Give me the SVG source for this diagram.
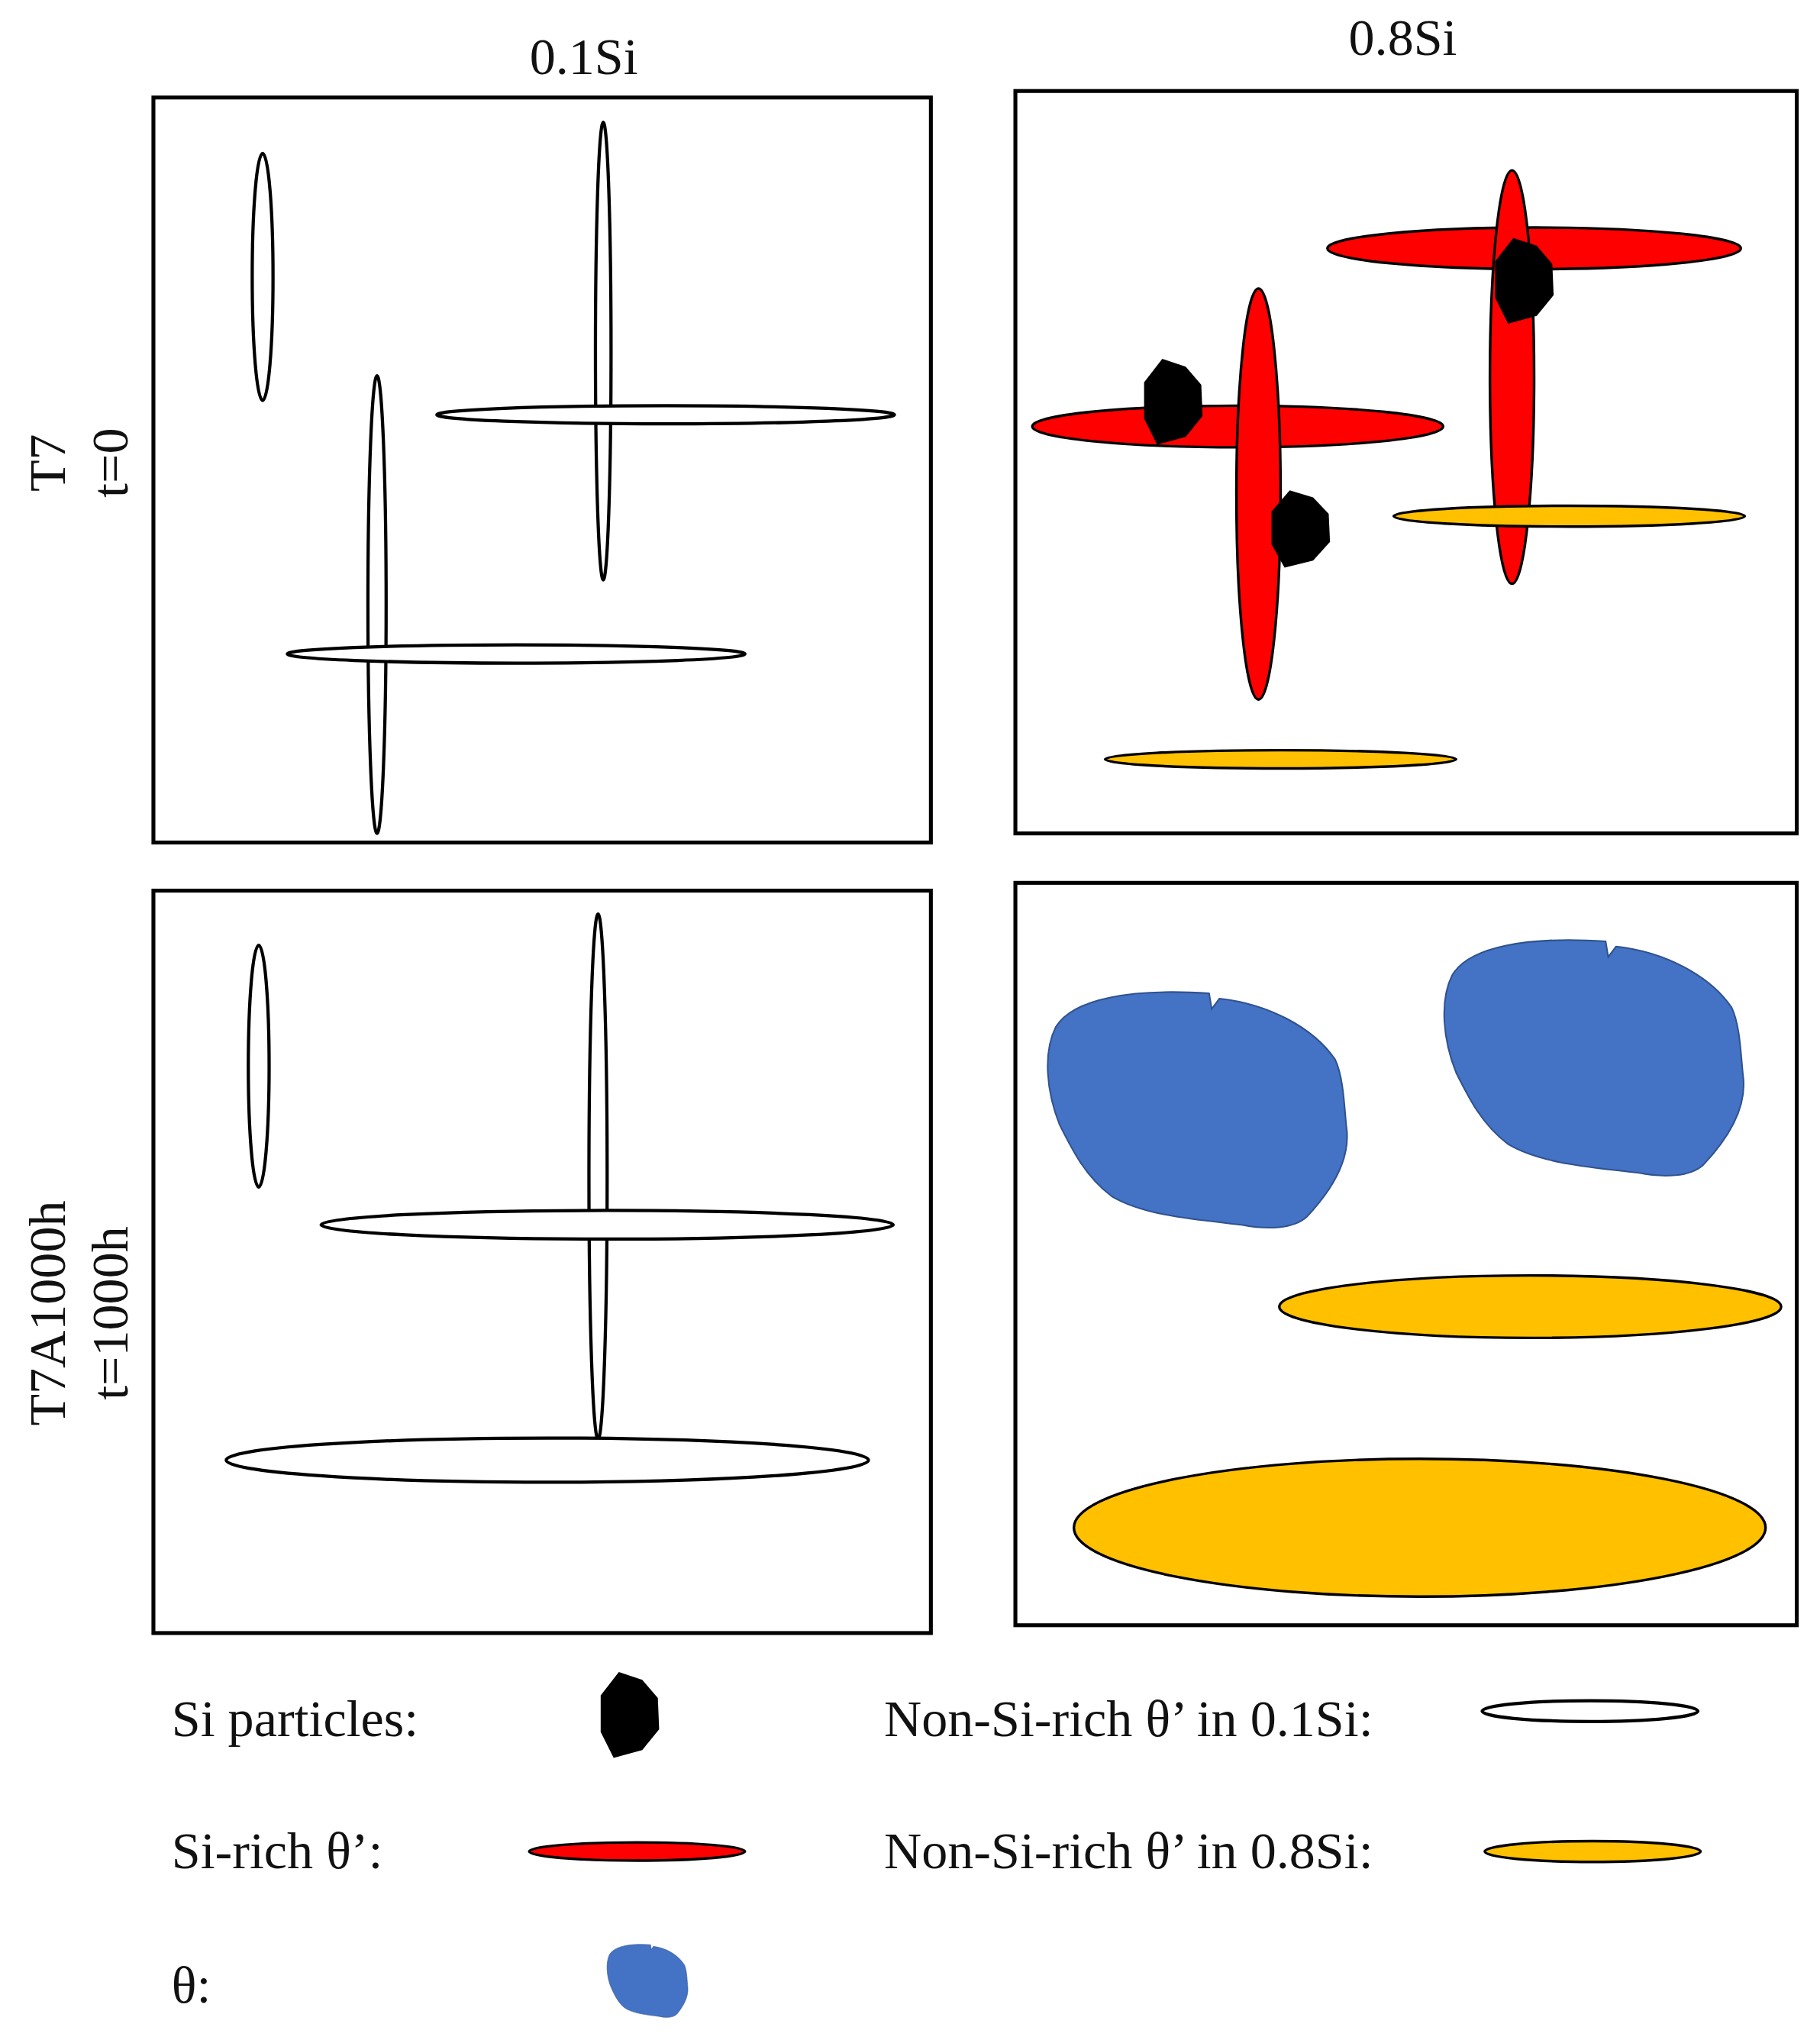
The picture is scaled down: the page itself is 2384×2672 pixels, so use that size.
<svg xmlns="http://www.w3.org/2000/svg" width="2384" height="2672" viewBox="0 0 2384 2672">
<style>
.t{font-family:"Liberation Serif","Times New Roman",serif;font-size:40px;fill:#111}
.p{fill:#fff;stroke:#000;stroke-width:3}
.w{fill:#fff;stroke:#000;stroke-width:2.5}
.r{fill:#ff0000;stroke:#000;stroke-width:2}
.y{fill:#ffc000;stroke:#000;stroke-width:2}
.b{fill:#4472c4;stroke:#2f528f;stroke-width:1.2}
</style>
<defs>
<path id="si" d="M -8 -32 L 10 -26 L 22 -12 L 23 12 L 10 28 L -12 34 L -22 14 L -22 -14 Z" fill="#000"/>
<path id="th" d="M 812 790 C 825 768 870 760 930 764 L 932 776 L 938 768 C 975 772 1010 790 1027 815 C 1034 830 1034 855 1036 870 C 1038 895 1022 918 1005 936 C 995 945 975 946 955 942 C 920 938 880 935 855 920 C 835 905 825 885 815 865 C 805 840 802 810 812 790 Z"/>
</defs>
<rect width="2384" height="2672" fill="#fff"/>
<g transform="scale(1.703)">
<g id="headers">
<text class="t" x="449" y="57" text-anchor="middle">0.1Si</text>
<text class="t" x="1079" y="42" text-anchor="middle">0.8Si</text>
<text class="t" transform="translate(50,356) rotate(-90)" text-anchor="middle">T7</text>
<text class="t" transform="translate(98,356) rotate(-90)" text-anchor="middle">t=0</text>
<text class="t" transform="translate(50,1010) rotate(-90)" text-anchor="middle">T7A1000h</text>
<text class="t" transform="translate(98,1010) rotate(-90)" text-anchor="middle">t=1000h</text>
</g>
<g id="panel-tl">
<rect class="p" x="118" y="75" width="598" height="573"/>
<ellipse class="w" cx="202" cy="213" rx="8" ry="95"/>
<ellipse class="w" cx="464" cy="270" rx="6" ry="176"/>
<ellipse class="w" cx="512" cy="319" rx="176" ry="7"/>
<ellipse class="w" cx="290" cy="465" rx="7" ry="176"/>
<ellipse class="w" cx="397" cy="503" rx="176" ry="7"/>
</g>
<g id="panel-tr">
<rect class="p" x="781" y="70" width="601" height="571"/>
<ellipse class="r" cx="1180" cy="191" rx="159" ry="16"/>
<ellipse class="r" cx="1163" cy="290" rx="17" ry="159"/>
<use href="#si" transform="translate(1172,215)"/>
<ellipse class="r" cx="952" cy="328" rx="158" ry="16"/>
<ellipse class="r" cx="968" cy="380" rx="17" ry="158"/>
<use href="#si" transform="translate(902,308)"/>
<use href="#si" transform="translate(1000,406) scale(1,0.9)"/>
<ellipse class="y" cx="1207" cy="397" rx="135" ry="8"/>
<ellipse class="y" cx="985" cy="584" rx="135" ry="7"/>
</g>
<g id="panel-bl">
<rect class="p" x="118" y="685" width="598" height="571"/>
<ellipse class="w" cx="199" cy="820" rx="8" ry="93"/>
<ellipse class="w" cx="460" cy="905" rx="7" ry="202"/>
<ellipse class="w" cx="467" cy="942" rx="220" ry="11"/>
<ellipse class="w" cx="421" cy="1123" rx="247" ry="17"/>
</g>
<g id="panel-br">
<rect class="p" x="781" y="679" width="601" height="571"/>
<use href="#th" class="b"/>
<use href="#th" class="b" transform="translate(305,-40)"/>
<ellipse class="y" cx="1177" cy="1005" rx="193" ry="24"/>
<ellipse class="y" cx="1092" cy="1175" rx="266" ry="53"/>
</g>
<g id="legend">
<text class="t" x="132" y="1335">Si particles:</text>
<use href="#si" transform="translate(484,1318)"/>
<text class="t" x="680" y="1335">Non-Si-rich θ’ in 0.1Si:</text>
<ellipse class="w" cx="1223" cy="1316" rx="83" ry="8"/>
<text class="t" x="132" y="1437">Si-rich θ’:</text>
<ellipse class="r" cx="490" cy="1424" rx="83" ry="7"/>
<text class="t" x="680" y="1437">Non-Si-rich θ’ in 0.8Si:</text>
<ellipse class="y" cx="1225" cy="1424" rx="83" ry="8"/>
<text class="t" x="132" y="1540">θ:</text>
<use href="#th" class="b" transform="translate(498,1523) scale(0.27,0.31) translate(-921,-852)"/>
</g>
</g>
</svg>
